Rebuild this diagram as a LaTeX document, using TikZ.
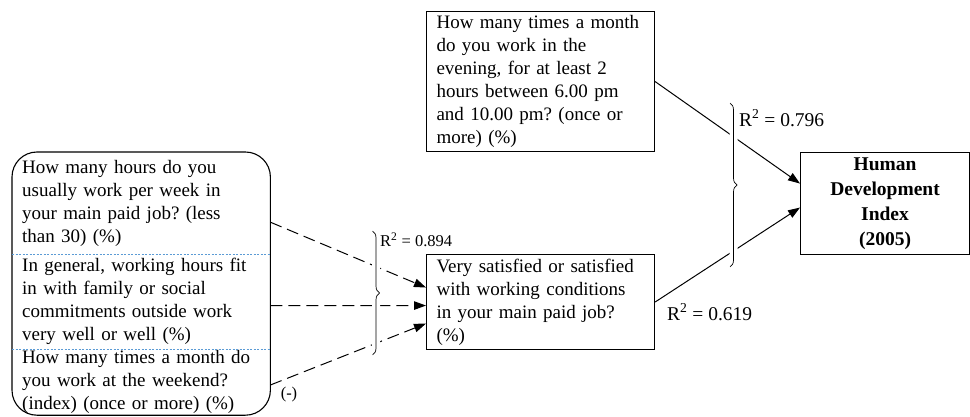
\documentclass[tikz,border=0pt]{standalone}
\usepackage{fontspec}
\setmainfont{Liberation Serif}
\usetikzlibrary{positioning,fit,arrows.meta,decorations.pathreplacing}

\definecolor{sepblue}{RGB}{91,155,213}
\frenchspacing

\begin{document}
\begin{tikzpicture}[x=1pt, y=1pt,
    box/.style={draw, line width=1.1pt, align=left, text width=#1, inner xsep=10pt, inner ysep=0pt,
      font=\fontsize{19}{23}\selectfont},
    item/.style={align=left, text width=238pt, inner xsep=10pt, inner ysep=0pt,
      font=\fontsize{19}{23}\selectfont},
    sep/.style={draw=sepblue, line width=0.6pt, dash pattern=on 2pt off 1.5pt},
    arr/.style={line width=1pt, -{Triangle[length=12pt, width=8.5pt]}},
    darr/.style={arr, dash pattern=on 12pt off 6pt},
    brace/.style={decorate, decoration={brace, amplitude=7pt}, line width=0.7pt},
    label/.style={font=\fontsize{19.5}{23}\selectfont, inner sep=0pt},
    small/.style={font=\fontsize{16.5}{18}\selectfont, inner sep=0pt}]
    \useasboundingbox (0,0) rectangle (970,-417);

    \node[box=208pt, minimum height=140pt, anchor=north west] (evening) at (426,-11)
      {How many times a month\\do you work in the\\evening, for at least 2\\hours between 6.00 pm\\and 10.00 pm? (once or\\more) (\%)};
    \node[box=208pt, minimum height=95pt, anchor=north west] (satis) at (426,-254)
      {Very satisfied or satisfied\\with working conditions\\in your main paid job?\\(\%)};
    \node[draw, line width=1.1pt, align=center, text width=149pt, inner xsep=10pt, inner ysep=0pt,
      minimum height=102pt, anchor=north west, font=\bfseries\fontsize{19.5}{25}\selectfont] (hdi) at (800,-152)
      {Human\\Development\\Index\\(2005)};

    \node[item, minimum height=102pt, anchor=north west] (hours) at (12,-152)
      {How many hours do you\\usually work per week in\\your main paid job? (less\\than 30) (\%)};
    \node[item, minimum height=94pt, below=0pt of hours] (family)
      {In general, working hours fit\\in with family or social\\commitments outside work\\very well or well (\%)};
    \node[item, minimum height=66pt, below=0pt of family] (weekend)
      {How many times a month do\\you work at the weekend?\\(index) (once or more) (\%)};
    \node[draw, line width=1.1pt, rounded corners=25pt, inner sep=0pt, fit=(hours)(family)(weekend)] (items) {};
    \draw[sep] (hours.south west) -- (hours.south east);
    \draw[sep] (family.south west) -- (family.south east);

    \draw[arr] (evening.east) -- ([yshift=20pt]hdi.west);
    \draw[arr] (satis.east) -- ([yshift=-4pt]hdi.west);
    \draw[darr] ([yshift=-19pt]hours.east) -- ([yshift=14.5pt]satis.west);
    \draw[darr] ([yshift=-4pt]family.east) -- ([yshift=-3.5pt]satis.west);
    \draw[darr] ([yshift=-3pt]weekend.east) -- ([yshift=-21.5pt]satis.west);

    % braces with a white gap under them
    \coordinate (bt) at (730,-103);
    \coordinate (bb) at (730,-267);
    \coordinate (lt) at (372.5,-231);
    \coordinate (lb) at (372.5,-355);
    \draw[brace, draw=white, line width=8pt] (bt) -- (bb);
    \draw[brace, draw=white, line width=8pt] (lt) -- (lb);
    \draw[brace] (bt) -- (bb);
    \draw[brace] (lt) -- (lb);

    \node[label, anchor=west] (rtop) at (739,-118) {R\textsuperscript{2} = 0.796};
    \node[label, anchor=west] (rsat) at (667,-312) {R\textsuperscript{2} = 0.619};
    \node[small, anchor=west] (rleft) at (380,-240) {R\textsuperscript{2} = 0.894};
    \node[small] (neg) at (289,-395) {(-)};
\end{tikzpicture}
\end{document}
